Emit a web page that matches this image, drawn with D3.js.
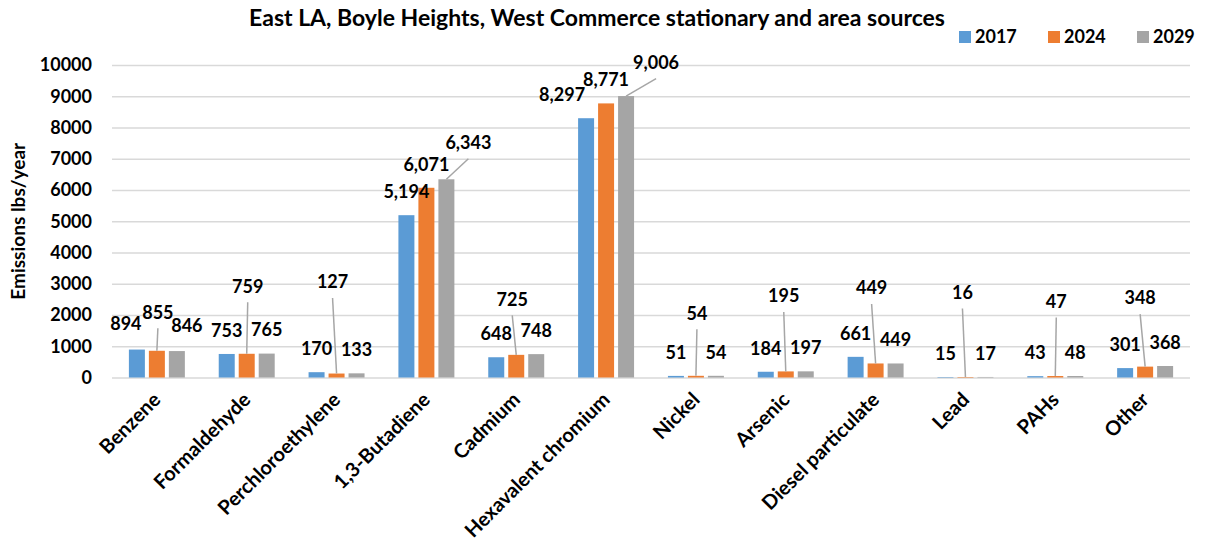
<!DOCTYPE html>
<html>
<head>
<meta charset="utf-8">
<script src="https://cdn.jsdelivr.net/npm/d3@7"></script>
<style>
  body { margin: 0; background: #fff; }
  text { font-family: Lato, "Open Sans", sans-serif; font-weight: bold; fill: #000; }
</style>
</head>
<body>
<div id="chart"></div>
<script>
const categories = ["Benzene", "Formaldehyde", "Perchloroethylene", "1,3-Butadiene", "Cadmium",
  "Hexavalent chromium", "Nickel", "Arsenic", "Diesel particulate", "Lead", "PAHs", "Other"];
const years = ["2017", "2024", "2029"];
const values2017 = [894, 753, 170, 5194, 648, 8297, 51, 184, 661, 15, 43, 301];
const values2024 = [855, 759, 127, 6071, 725, 8771, 54, 195, 449, 16, 47, 348];
const values2029 = [846, 765, 133, 6343, 748, 9006, 54, 197, 449, 17, 48, 368];
const yTicks = d3.range(0, 10001, 1000);

// manual label moves (px), third item = draw leader line
const nudge2017 = [[-11, -2], [0, 0], [0, 0], [0, 0], [0, 0], [-24, 0], [0, 0], [0, 0], [0, 0], [0, 0], [0, 0], [0, 0]];
const nudge2024 = [[1, -15, 1], [1, -44, 1], [-4, -68, 1], [0, 0], [-4, -32, 1], [0, 0], [1, -39, 1],
  [-2, -52, 1], [-4, -52, 1], [-3, -61, 1], [1, -51, 1], [-5, -45, 1]];
const nudge2029 = [[10, -2], [0, 0], [0, 0], [22, -13, 1], [0, 0], [30, -10, 1], [0, 0], [0, 0], [0, 0], [0, 0], [0, 0], [0, 0]];

const seriesValues = { "2017": values2017, "2024": values2024, "2029": values2029 };
const seriesNudge = { "2017": nudge2017, "2024": nudge2024, "2029": nudge2029 };
const colors = { "2017": "#5b9bd5", "2024": "#ed7d31", "2029": "#a5a5a5" };

const WIDTH = 1208, HEIGHT = 550;
const PLOT = { LEFT: 112, RIGHT: 1190, TOP: 65, BOTTOM: 377.5 };

const svg = d3.select("#chart").append("svg")
  .attr("width", WIDTH)
  .attr("height", HEIGHT);

const x0 = d3.scaleBand()
  .domain(categories)
  .range([PLOT.LEFT, PLOT.RIGHT])
  .paddingInner(0.377)
  .paddingOuter(0.188);

const x1 = d3.scaleBand()
  .domain(years)
  .range([0, x0.bandwidth()])
  .paddingInner(0.2);

const y = d3.scaleLinear().domain([0, 10000]).range([PLOT.BOTTOM, PLOT.TOP]);

// gridlines + y ticks
const yAxis = svg.append("g")
  .attr("transform", `translate(${PLOT.LEFT},0)`)
  .call(d3.axisLeft(y).tickValues(yTicks).tickSize(-(PLOT.RIGHT - PLOT.LEFT)).tickPadding(20).tickFormat(d3.format("d")));
yAxis.select(".domain").remove();
yAxis.selectAll(".tick line").attr("stroke", "#d9d9d9").attr("stroke-width", 1.5);
yAxis.selectAll(".tick text").style("font-size", "18px").style("font-family", "Lato, sans-serif").attr("fill", "#000");

svg.append("text")
  .attr("transform", `translate(25,${(PLOT.TOP + PLOT.BOTTOM) / 2}) rotate(-90)`)
  .attr("text-anchor", "middle")
  .style("font-size", "19px")
  .text("Emissions lbs/year");

svg.append("text")
  .attr("x", 597)
  .attr("y", 26)
  .attr("text-anchor", "middle")
  .style("font-size", "23px")
  .text("East LA, Boyle Heights, West Commerce stationary and area sources");

// bars
const groups = svg.append("g").selectAll("g")
  .data(categories)
  .join("g")
  .attr("transform", (d) => `translate(${x0(d)},0)`);

groups.selectAll("rect")
  .data((d, i) => years.map((yr) => ({ yr: yr, v: seriesValues[yr][i] })))
  .join("rect")
  .attr("x", (d) => x1(d.yr))
  .attr("width", x1.bandwidth())
  .attr("y", (d) => y(d.v))
  .attr("height", (d) => y(0) - y(d.v))
  .attr("fill", (d) => colors[d.yr]);

// labels
const labels = [];
categories.forEach((c, i) => {
  years.forEach((yr) => {
    const v = seriesValues[yr][i];
    const n = seriesNudge[yr][i];
    const bx = x0(c) + x1(yr) + x1.bandwidth() / 2;
    labels.push({ v: v, bx: bx, by: y(v), lx: bx + n[0], ly: y(v) - 23.5 + n[1], leader: !!n[2] });
  });
});

svg.append("g").selectAll("line")
  .data(labels.filter((d) => d.leader))
  .join("line")
  .attr("x1", (d) => d.lx)
  .attr("y1", (d) => d.ly + 16)
  .attr("x2", (d) => d.bx)
  .attr("y2", (d) => d.by)
  .attr("stroke", "#a6a6a6")
  .attr("stroke-width", 1.5);

svg.append("g").selectAll("text")
  .data(labels)
  .join("text")
  .attr("x", (d) => d.lx)
  .attr("y", (d) => d.ly)
  .attr("dy", "0.35em")
  .attr("text-anchor", "middle")
  .style("font-size", "18px")
  .text((d) => d3.format(",")(d.v));

// category labels
svg.append("g").selectAll("text")
  .data(categories)
  .join("text")
  .attr("transform", (d) => `translate(${x0(d) + x0.bandwidth() / 2 + 5},401) rotate(-45)`)
  .attr("text-anchor", "end")
  .style("font-size", "20px")
  .text((d) => d);

// legend
const legend = svg.append("g").selectAll("g")
  .data(years)
  .join("g")
  .attr("transform", (d, i) => `translate(${959 + i * 89},31)`);
legend.append("rect").attr("width", 12).attr("height", 12).attr("fill", (d) => colors[d]);
legend.append("text").attr("x", 16).attr("y", 12).style("font-size", "18px").text((d) => d);
</script>
</body>
</html>
